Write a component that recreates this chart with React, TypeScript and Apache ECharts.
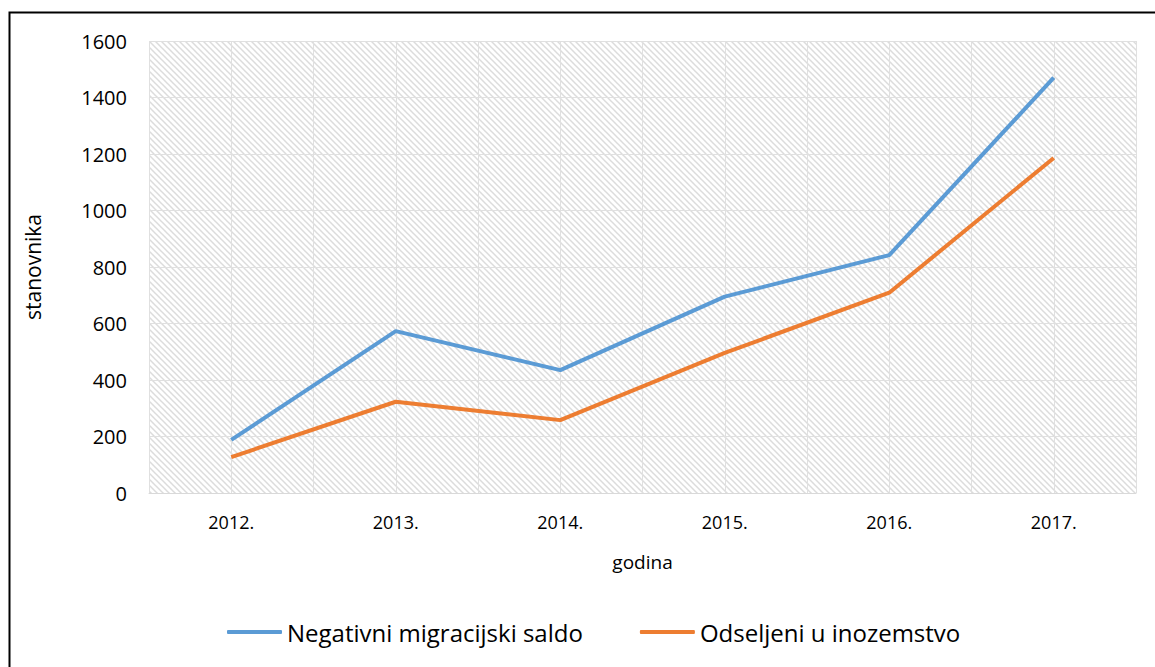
import React, { useEffect, useRef } from "react";
import * as echarts from "echarts";

const years = ["2012.", "2013.", "2014.", "2015.", "2016.", "2017."];
const negativniSaldo = [188, 573, 435, 695, 842, 1470];
const odseljeni = [127, 323, 258, 496, 709, 1186];
const seriesNames = ["Negativni migracijski saldo", "Odseljeni u inozemstvo"];
const yTicks = { min: 0, max: 1600, interval: 200 };

const FONT = "'Open Sans', 'Noto Sans', sans-serif";

const hatchSvg =
  "data:image/svg+xml;charset=utf-8," +
  encodeURIComponent(
    "<svg xmlns='http://www.w3.org/2000/svg' width='6' height='6'>" +
      "<path d='M-1,-1 L7,7 M-1,5 L1,7 M5,-1 L7,1' stroke='#dcdcdc' stroke-width='1.5'/>" +
      "</svg>"
  );

export default function App() {
  const ref = useRef<HTMLDivElement>(null);
  useEffect(() => {
    document.body.style.margin = "0";
    const chart = echarts.init(ref.current!, null, { renderer: "svg" });
    chart.setOption({
      animation: false,
      textStyle: { fontFamily: FONT },
      graphic: [
        {
          type: "rect",
          left: 7,
          top: 10,
          shape: { width: 1250, height: 750 },
          style: { fill: "none", stroke: "#000", lineWidth: 2 },
          silent: true,
        },
      ],
      grid: {
        left: 149,
        right: 19,
        top: 41,
        bottom: 174,
        show: true,
        borderWidth: 0,
        backgroundColor: { image: hatchSvg, repeat: "repeat" } as any,
      },
      legend: {
        bottom: 18,
        left: 222,
        itemWidth: 55,
        itemHeight: 4,
        itemGap: 57,
        icon: "roundRect",
        textStyle: { fontSize: 24, color: "#000", fontFamily: FONT },
        data: seriesNames,
      },
      xAxis: [
        {
          type: "category",
          data: years,
          boundaryGap: true,
          axisLine: { show: true, lineStyle: { color: "#d9d9d9", width: 1 } },
          axisTick: { show: false },
          axisLabel: { fontSize: 18, color: "#000", margin: 20, fontFamily: FONT },
          splitLine: { show: false },
          name: "godina",
          nameLocation: "middle",
          nameGap: 59,
          nameTextStyle: { fontSize: 19, color: "#000", fontFamily: FONT },
        },
        {
          type: "value",
          min: 0,
          max: 12,
          interval: 1,
          show: true,
          position: "bottom",
          axisLine: { show: false },
          axisTick: { show: false },
          axisLabel: { show: false },
          splitLine: { show: true, lineStyle: { color: "#e0e0e0", width: 1 } },
        },
      ],
      yAxis: {
        type: "value",
        min: yTicks.min,
        max: yTicks.max,
        interval: yTicks.interval,
        axisLine: { show: false },
        axisTick: { show: false },
        axisLabel: {
          fontSize: 20,
          color: "#000",
          margin: 22,
          fontFamily: FONT,
          formatter: (v: number) => String(v),
        },
        splitLine: { show: true, lineStyle: { color: "#e0e0e0", width: 1 } },
        name: "stanovnika",
        nameLocation: "middle",
        nameGap: 106,
        nameRotate: 90,
        nameTextStyle: { fontSize: 21, color: "#000", fontFamily: FONT },
      },
      series: [
        {
          name: seriesNames[0],
          type: "line",
          data: negativniSaldo,
          symbol: "none",
          lineStyle: { color: "#5B9BD5", width: 4 },
          itemStyle: { color: "#5B9BD5" },
        },
        {
          name: seriesNames[1],
          type: "line",
          data: odseljeni,
          symbol: "none",
          lineStyle: { color: "#ED7D31", width: 4 },
          itemStyle: { color: "#ED7D31" },
        },
      ],
    });
    return () => chart.dispose();
  }, []);
  return <div ref={ref} style={{ width: 1155, height: 667 }} />;
}
